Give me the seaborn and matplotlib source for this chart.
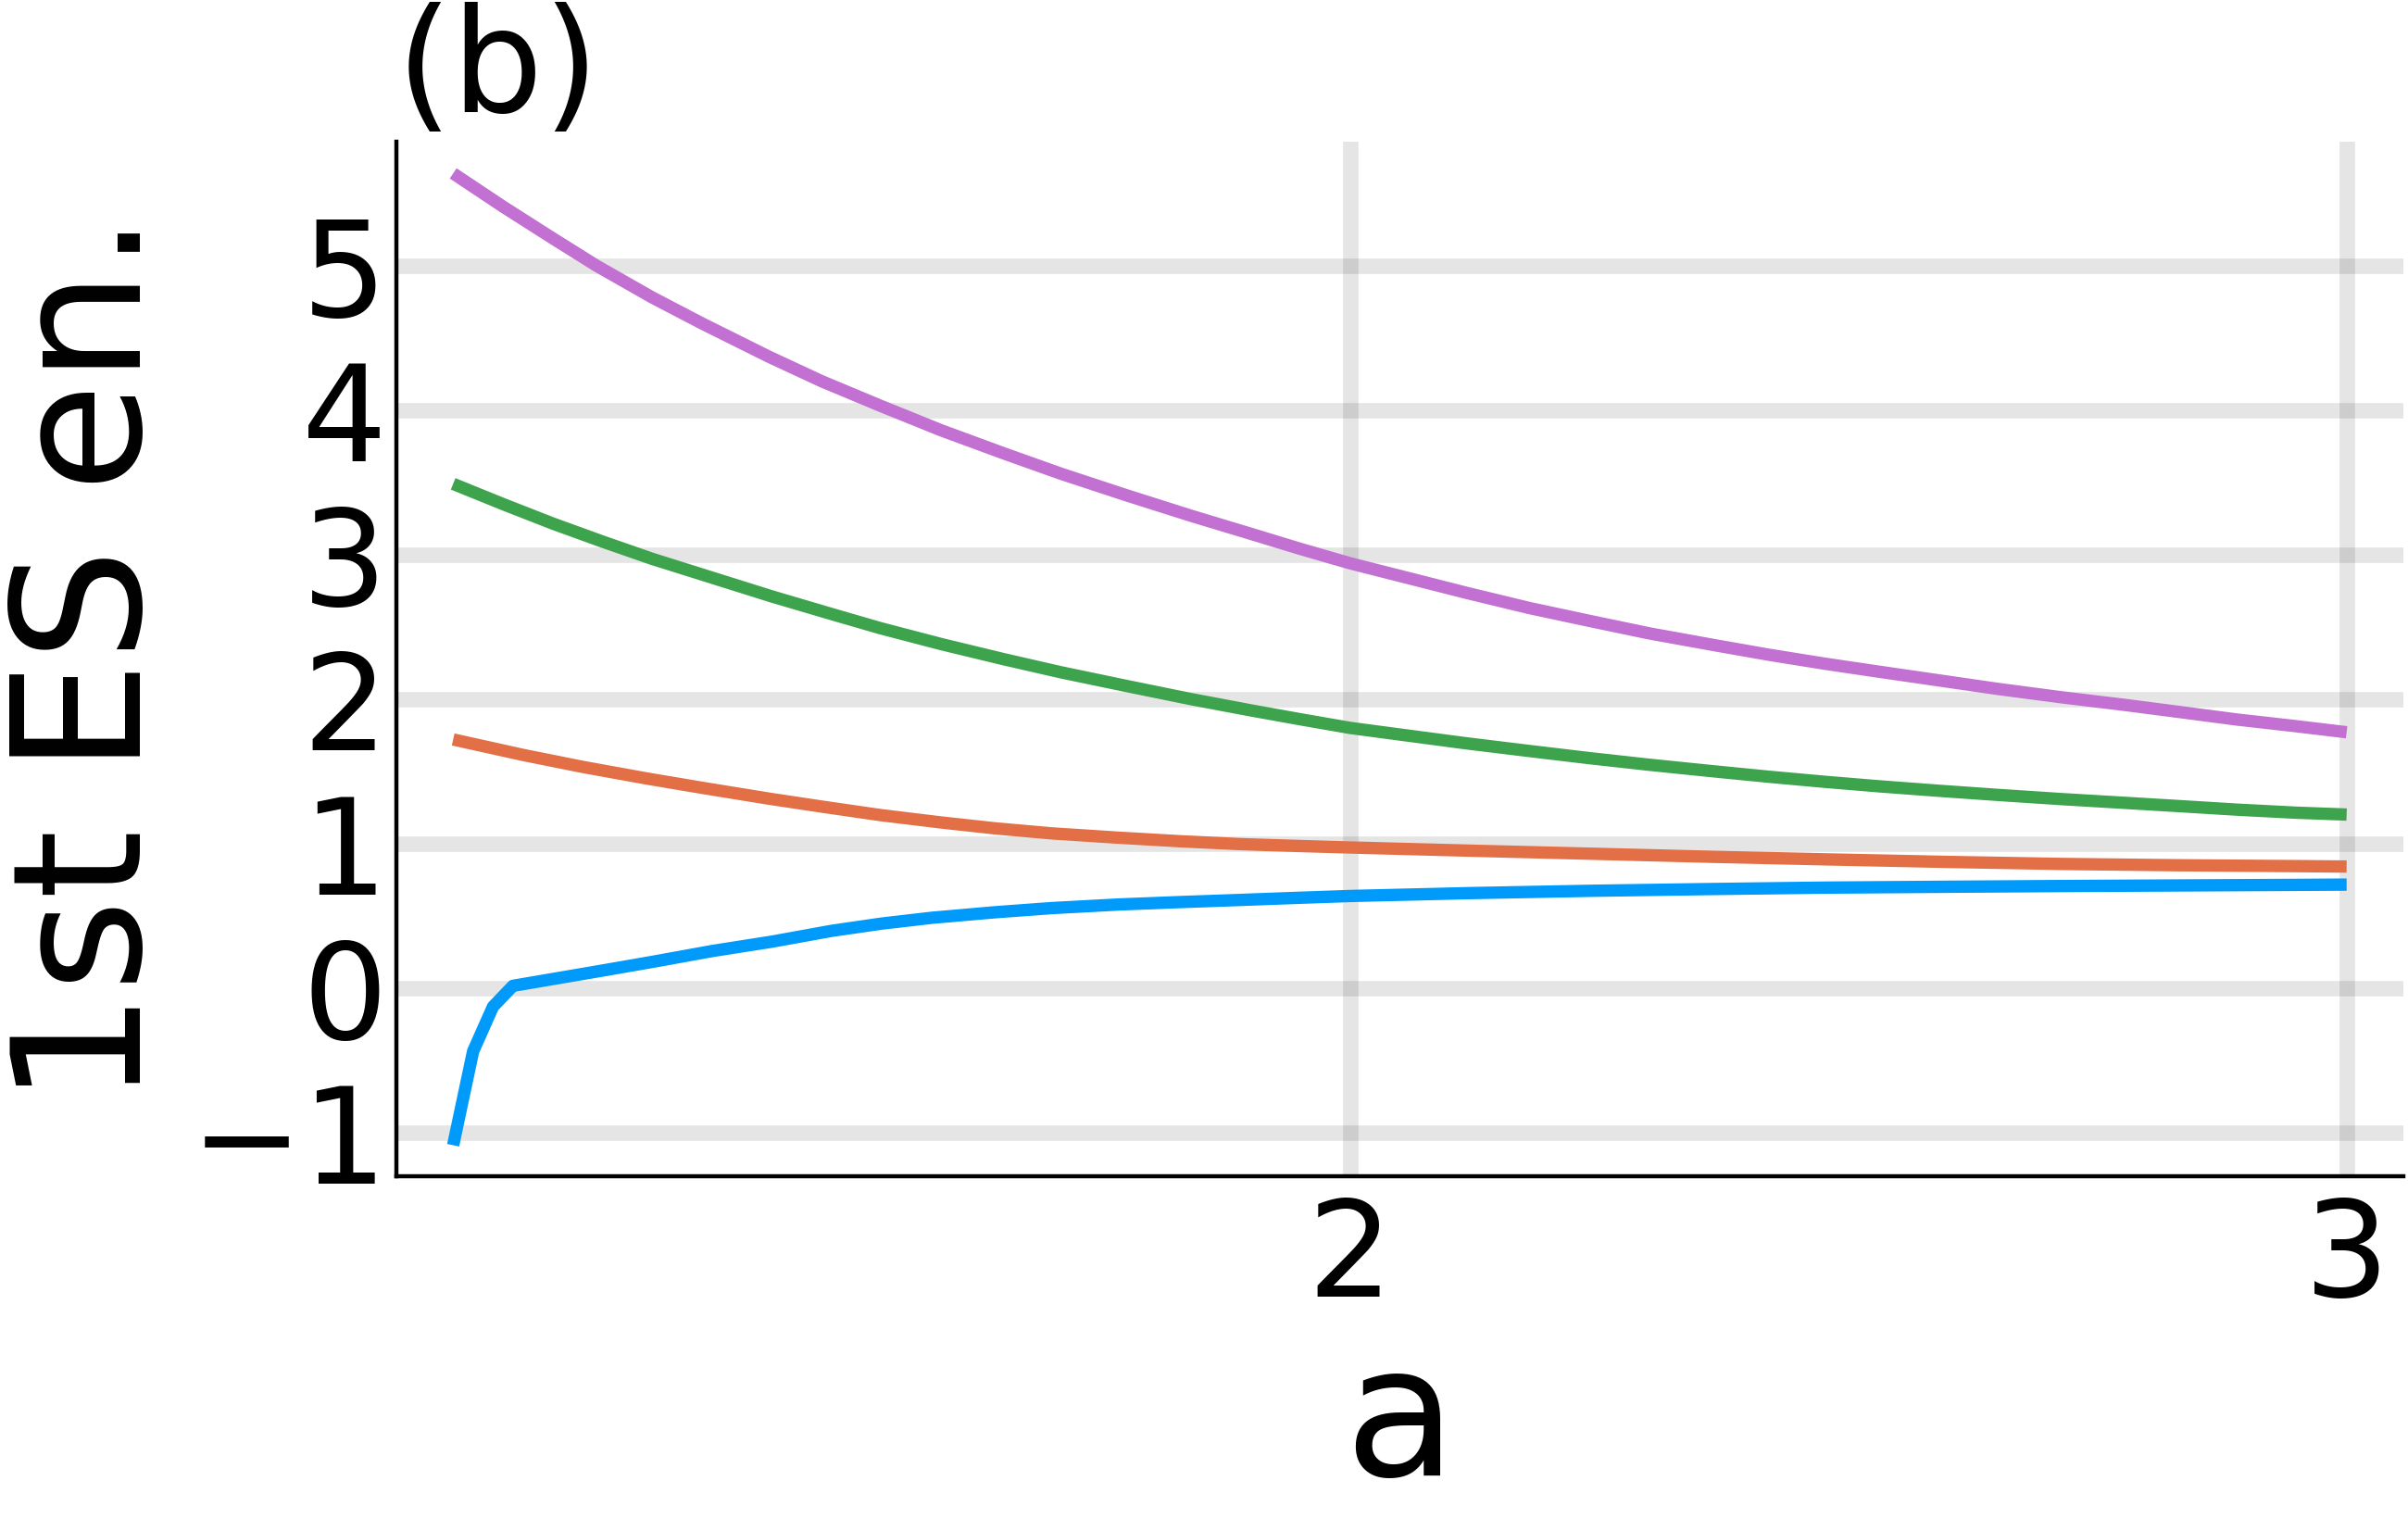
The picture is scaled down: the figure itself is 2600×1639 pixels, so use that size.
import numpy as np
import pandas as pd
import matplotlib
matplotlib.use("Agg")
import matplotlib.pyplot as plt
import seaborn as sns

# ------------------------------------------------------------
# Data (a vs. 1st excited-state energy)
# ------------------------------------------------------------
a_blue = [1.10, 1.12, 1.14, 1.16, 1.25, 1.30, 1.36, 1.42, 1.48, 1.53,
          1.58, 1.643, 1.70, 1.767, 1.83, 1.891, 1.95, 2.00, 2.12, 2.241,
          2.36, 2.476, 2.60, 2.714, 2.83, 2.949, 3.00]
e_blue = [-1.09, -0.44, -0.13, 0.014, 0.12, 0.18, 0.255, 0.32, 0.395, 0.445,
          0.485, 0.523, 0.552, 0.577, 0.594, 0.609, 0.624, 0.636, 0.656, 0.672,
          0.684, 0.694, 0.700, 0.705, 0.709, 0.713, 0.715]

a_orange = [1.10, 1.17, 1.23, 1.294, 1.35, 1.417, 1.47, 1.529, 1.59, 1.643,
            1.70, 1.767, 1.83, 1.891, 1.95, 2.00, 2.12, 2.241, 2.36, 2.476,
            2.60, 2.714, 2.83, 2.949, 3.00]
e_orange = [1.72, 1.613, 1.53, 1.45, 1.385, 1.31, 1.255, 1.196, 1.145, 1.105,
            1.07, 1.04, 1.015, 0.995, 0.982, 0.972, 0.95, 0.929, 0.908, 0.89,
            0.872, 0.858, 0.849, 0.843, 0.84]

a_green = [1.10, 1.15, 1.20, 1.25, 1.30, 1.36, 1.42, 1.479, 1.529, 1.59,
           1.653, 1.71, 1.776, 1.84, 1.90, 1.95, 2.00, 2.06, 2.117, 2.18,
           2.241, 2.30, 2.364, 2.42, 2.476, 2.53, 2.59, 2.65, 2.714, 2.78,
           2.838, 2.89, 2.949, 3.00]
e_green = [3.49, 3.35, 3.215, 3.09, 2.97, 2.84, 2.71, 2.59, 2.49, 2.38,
           2.275, 2.185, 2.09, 2.0, 1.922, 1.86, 1.80, 1.745, 1.693, 1.64,
           1.59, 1.545, 1.50, 1.462, 1.427, 1.396, 1.365, 1.336, 1.307, 1.28,
           1.256, 1.234, 1.213, 1.20]

a_purple = [1.10, 1.15, 1.20, 1.244, 1.30, 1.35, 1.417, 1.47, 1.529, 1.59,
            1.653, 1.71, 1.776, 1.84, 1.90, 1.95, 2.00, 2.06, 2.117, 2.18,
            2.241, 2.30, 2.364, 2.42, 2.476, 2.53, 2.59, 2.65, 2.714, 2.78,
            2.838, 2.89, 2.949, 3.00]
e_purple = [5.64, 5.41, 5.19, 5.00, 4.78, 4.60, 4.37, 4.20, 4.03, 3.86,
            3.70, 3.56, 3.41, 3.27, 3.145, 3.04, 2.94, 2.835, 2.735, 2.63,
            2.54, 2.455, 2.375, 2.307, 2.245, 2.19, 2.13, 2.07, 2.012, 1.957,
            1.905, 1.858, 1.812, 1.77]

series = [
    (a_blue, e_blue, "#009AFA"),
    (a_orange, e_orange, "#E26F46"),
    (a_green, e_green, "#3DA44D"),
    (a_purple, e_purple, "#C271D2"),
]

x_ticks = [2, 3]
y_ticks = [-1, 0, 1, 2, 3, 4, 5]

# ------------------------------------------------------------
# Plot
# ------------------------------------------------------------
sns.set_style("white")
plt.rcParams["font.family"] = ["DejaVu Sans"]
plt.rcParams["text.color"] = "black"
plt.rcParams["axes.labelcolor"] = "black"
plt.rcParams["xtick.color"] = "black"
plt.rcParams["ytick.color"] = "black"

fig = plt.figure(figsize=(26, 16.39), dpi=100)
ax = fig.add_axes([0.1646, 0.2251, 0.8335, 0.6818])

for a_vals, e_vals, color in series:
    df = pd.DataFrame({"a": a_vals, "E": e_vals})
    sns.lineplot(data=df, x="a", y="E", ax=ax, color=color, linewidth=9.6,
                 estimator=None, sort=False, solid_capstyle="butt")

ax.set_xlim(1.043, 3.057)
ax.set_ylim(-1.305, 5.862)
ax.set_xticks(x_ticks)
ax.set_yticks(y_ticks)

ax.grid(True, color="black", alpha=0.1, linewidth=12)
ax.set_axisbelow(True)

for side in ["top", "right"]:
    ax.spines[side].set_visible(False)
for side in ["left", "bottom"]:
    ax.spines[side].set_color("black")
    ax.spines[side].set_linewidth(3.2)

ax.tick_params(axis="both", direction="in", length=9, width=2, colors="black",
               labelsize=104)
ax.tick_params(axis="x", pad=14)
ax.tick_params(axis="y", pad=7)

ax.set_xlabel("a", fontsize=142, color="black")
ax.set_ylabel("1st ES en.", fontsize=138, color="black")
ax.xaxis.set_label_coords(0.5, -0.1557)
ax.yaxis.set_label_coords(-0.1087, 0.5)

ax.set_title("(b)", loc="left", fontsize=112, pad=23, color="black")

fig.savefig("out.png", dpi=100)
plt.close(fig)
